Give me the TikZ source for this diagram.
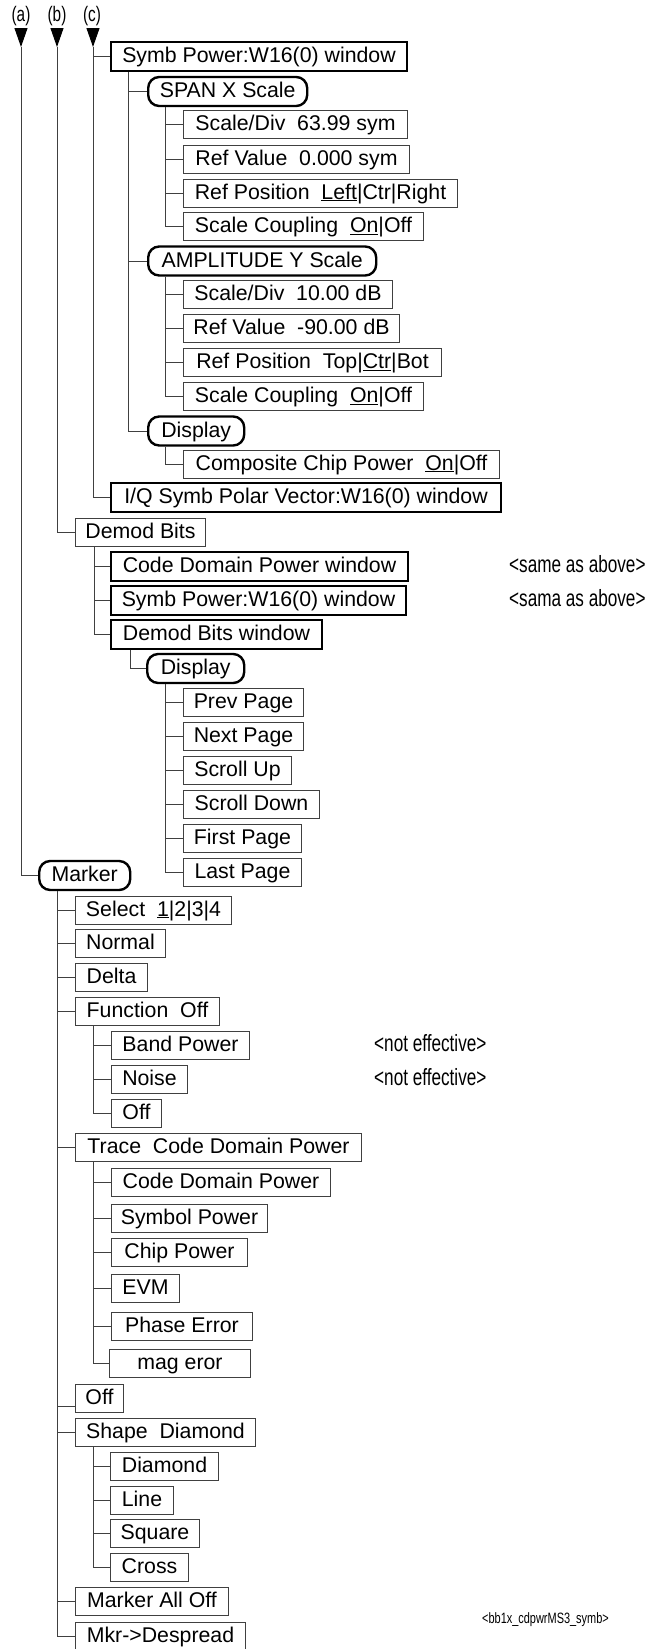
\documentclass[tikz,border=0pt]{standalone}
\usepackage{fontspec}
\setmainfont{Liberation Sans}
\newfontfamily\narrowfont[FakeStretch=0.73]{Liberation Sans}
\usetikzlibrary{arrows.meta}
\begin{document}
\begin{tikzpicture}[x=1pt,y=-1pt,
  every node/.style={font=\fontsize{21.3}{24}\selectfont, inner xsep=2pt, inner ysep=0pt,
                     text height=16pt, text depth=4pt, anchor=west},
  item/.style={draw=black!75, line width=1pt, minimum height=28pt, minimum width=#1},
  win/.style={draw=black, line width=2pt, minimum height=29pt, minimum width=#1},
  menu/.style={draw=black, line width=2.4pt, rounded corners=11pt, minimum height=29pt, minimum width=#1},
  link/.style={draw=black!75, line width=1pt},
  tip/.style={-{Triangle[length=19pt,width=13pt]}},
  note/.style={font=\narrowfont\fontsize{23.5}{26}\selectfont},
  tag/.style={anchor=center, font=\narrowfont\fontsize{21}{24}\selectfont},
  fileid/.style={font=\narrowfont\fontsize{15}{18}\selectfont, text height=11pt, text depth=3pt}
]
\useasboundingbox (0,0) rectangle (646,1649);

% column heads and entry arrows
\node[tag] (ta) at (21,15) {(a)};
\node[tag] (tb) at (57,15) {(b)};
\node[tag] (tc) at (92,15) {(c)};
\coordinate (a0) at (21,28); \coordinate (a1) at (21,47);
\coordinate (b0) at (57,28); \coordinate (b1) at (57,47);
\coordinate (c0) at (93,28); \coordinate (c1) at (93,47);
\draw[link, tip, black] (a0) -- (a1);
\draw[link, tip, black] (b0) -- (b1);
\draw[link, tip, black] (c0) -- (c1);

% (c) branch
\node[win=296]  (symb1) at (110,56.5) {Symb Power:W16(0) window};
\node[menu=159] (span)  at (147,91.5) {SPAN X Scale};
\node[item=224] (sdx)   at (183,124.5) {Scale/Div~~63.99 sym};
\node[item=226] (rvx)   at (183,159) {Ref Value~~0.000 sym};
\node[item=274] (rpx)   at (183,193) {Ref Position~~\underline{Left}|Ctr|Right};
\node[item=240] (scx)   at (183,226.5) {Scale Coupling~~\underline{On}|Off};
\node[menu=228] (ampl)  at (147,261) {AMPLITUDE Y Scale};
\node[item=209] (sdy)   at (183,294.5) {Scale/Div~~10.00 dB};
\node[item=216] (rvy)   at (183,328.5) {Ref Value~~-90.00 dB};
\node[item=258] (rpy)   at (183,362.5) {Ref Position~~Top|\underline{Ctr}|Bot};
\node[item=240] (scy)   at (183,396.5) {Scale Coupling~~\underline{On}|Off};
\node[menu=96]  (disp1) at (147,431) {Display};
\node[item=316] (ccp)   at (183,464) {Composite Chip Power~~\underline{On}|Off};
\node[win=390]  (iq)    at (110,497.5) {I/Q Symb Polar Vector:W16(0) window};

% (b) branch
\node[item=130] (dbits) at (75,532) {Demod Bits};
\node[win=297]  (cdpw)  at (110,566) {Code Domain Power window};
\node[win=295]  (symb2) at (110,600) {Symb Power:W16(0) window};
\node[win=211]  (dbw)   at (110,634) {Demod Bits window};
\node[menu=97]  (disp2) at (146,668.5) {Display};
\node[item=120] (prev)  at (183,702) {Prev Page};
\node[item=120] (next)  at (183,736) {Next Page};
\node[item=108] (sup)   at (183,770) {Scroll Up};
\node[item=136] (sdn)   at (183,804) {Scroll Down};
\node[item=118] (first) at (183,838) {First Page};
\node[item=118] (last)  at (183,872) {Last Page};

\node[note] (n1) at (507,566) {<same as above>};
\node[note] (n2) at (507,600) {<sama as above>};

% (a) branch
\node[menu=91]  (marker) at (38,875.5) {Marker};
\node[item=156] (sel)    at (75,910) {Select~~\underline{1}|2|3|4};
\node[item=90]  (normal) at (75,943.5) {Normal};
\node[item=72]  (delta)  at (75,977.5) {Delta};
\node[item=144] (func)   at (75,1011.5) {Function~~Off};
\node[item=138] (band)   at (111,1045.5) {Band Power};
\node[item=76]  (noise)  at (111,1079.5) {Noise};
\node[item=50]  (foff)   at (111,1113) {Off};
\node[item=286] (trace)  at (75,1147.5) {Trace~~Code Domain Power};
\node[item=219] (tcdp)   at (111,1182.5) {Code Domain Power};
\node[item=156] (tsym)   at (111,1218) {Symbol Power};
\node[item=136] (tchip)  at (111,1252) {Chip Power};
\node[item=68]  (tevm)   at (111,1288.5) {EVM};
\node[item=141] (tphase) at (111,1326) {Phase Error};
\node[item=141] (tmag)   at (109,1363.5) {mag eror};
\node[item=48]  (moff)   at (75,1398) {Off};
\node[item=180] (shape)  at (75,1432.5) {Shape~~Diamond};
\node[item=108] (diam)   at (110,1466.5) {Diamond};
\node[item=63]  (line)   at (110,1500) {Line};
\node[item=89]  (square) at (110,1533.5) {Square};
\node[item=78]  (cross)  at (110,1567.5) {Cross};
\node[item=153] (mao)    at (75,1601.5) {Marker All Off};
\node[item=170] (despr)  at (75,1636) {Mkr->Despread};

\node[note] (n3) at (372,1045.5) {<not effective>};
\node[note] (n4) at (372,1079.5) {<not effective>};
\node[fileid] (fid) at (480,1619) {<bb1x\_cdpwrMS3\_symb>};

% connectors
\draw[link] (c1) |- (symb1.west);
\draw[link] (c1) |- (iq.west);
\draw[link] (b1) |- (dbits.west);
\draw[link] (a1) |- (marker.west);
\foreach \c in {span,ampl,disp1} \draw[link] ([xshift=18pt]symb1.south west) |- (\c.west);
\foreach \c in {sdx,rvx,rpx,scx} \draw[link] ([xshift=18pt]span.south west) |- (\c.west);
\foreach \c in {sdy,rvy,rpy,scy} \draw[link] ([xshift=18pt]ampl.south west) |- (\c.west);
\draw[link] ([xshift=18pt]disp1.south west) |- (ccp.west);
\foreach \c in {cdpw,symb2,dbw} \draw[link] ([xshift=19pt]dbits.south west) |- (\c.west);
\draw[link] ([xshift=20pt]dbw.south west) |- (disp2.west);
\foreach \c in {prev,next,sup,sdn,first,last} \draw[link] ([xshift=19pt]disp2.south west) |- (\c.west);
\foreach \c in {sel,normal,delta,func,trace,shape,mao,despr} \draw[link] ([xshift=19pt]marker.south west) |- (\c.west);
\draw[link] ([xshift=19pt]marker.south west) |- ([yshift=-8pt]moff.west);
\foreach \c in {band,noise,foff} \draw[link] ([xshift=18pt]func.south west) |- (\c.west);
\foreach \c in {tcdp,tsym,tchip,tevm,tphase,tmag} \draw[link] ([xshift=18pt]trace.south west) |- (\c.west);
\foreach \c in {diam,line,square,cross} \draw[link] ([xshift=18pt]shape.south west) |- (\c.west);
\end{tikzpicture}
\end{document}
